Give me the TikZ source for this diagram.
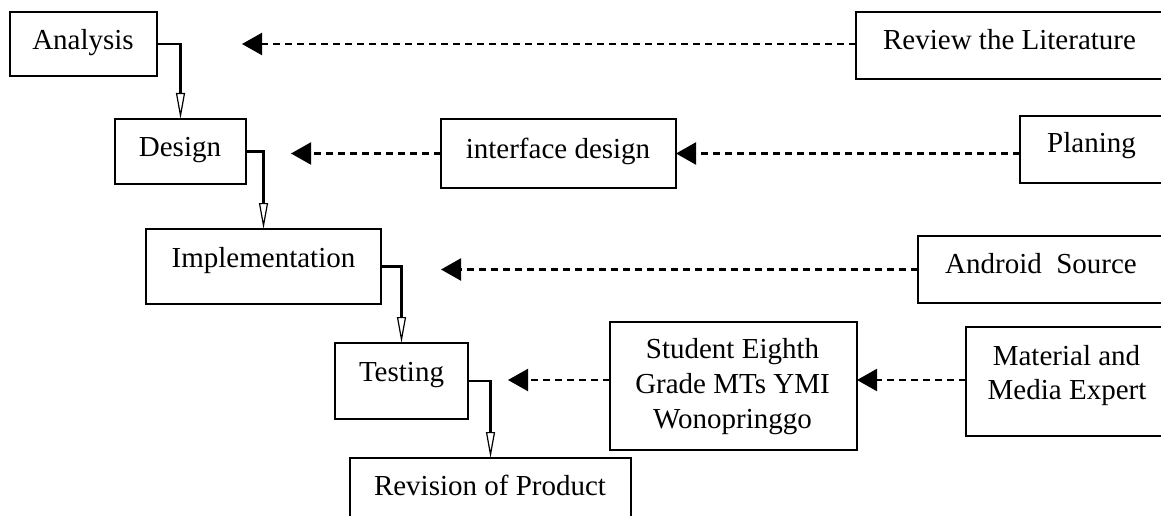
\documentclass[tikz,border=0pt]{standalone}
\usepackage{fontspec}
\setmainfont{Liberation Serif}
\usetikzlibrary{arrows.meta}

\begin{document}
\begin{tikzpicture}[x=1pt, y=-1pt,
  box/.style={draw, line width=1.8pt, inner sep=0pt, outer sep=0pt},
  txt/.style={inner sep=0pt, anchor=base, font=\fontsize{29}{35}\selectfont},
  flow/.style={line width=2.8pt,
    -{Triangle[open, length=26pt, width=9pt, line width=1.2pt]}},
  feed/.style={line width=2.2pt, dash pattern=on 7pt off 5pt,
    -{Triangle[length=20pt, width=22pt]}}]

  \fill[white] (0,0) rectangle (1161,516);
  \clip (0,0) rectangle (1161,516);

  % ---- main development stages (left column, stepping down) ----
  \node[box, minimum width=147pt, minimum height=64pt] (ana) at (83.5,44) {};
  \node[box, minimum width=131pt, minimum height=65pt] (des) at (180.5,151.5) {};
  \node[box, minimum width=235pt, minimum height=75pt] (imp) at (263.5,266.5) {};
  \node[box, minimum width=133pt, minimum height=76pt] (tst) at (401.5,381) {};
  \node[box, minimum width=281pt, minimum height=82pt] (rvp) at (490.5,499) {};

  \node[txt] (anaT) at (83,50)   {Analysis};
  \node[txt] (desT) at (180,157) {Design};
  \node[txt] (impT) at (263.5,267) {Implementation};
  \node[txt] (tstT) at (401.5,381) {Testing};
  \node[txt] (rvpT) at (490,495) {Revision of Product};

  % ---- inputs feeding the stages ----
  \node[box, minimum width=344pt, minimum height=67pt] (rlt) at (1028,45.5) {};
  \node[box, minimum width=180pt, minimum height=67pt] (pla) at (1110,149.5) {};
  \node[box, minimum width=235pt, minimum height=69pt] (ifd) at (558.5,153.5) {};
  \node[box, minimum width=282pt, minimum height=67pt] (and) at (1059,269.5) {};
  \node[box, minimum width=247pt, minimum height=128pt] (stu) at (733.5,386) {};
  \node[box, minimum width=234pt, minimum height=109pt] (mat) at (1083,381.5) {};

  \node[txt] (rltT) at (1009.5,50) {Review the Literature};
  \node[txt] (plaT) at (1091.5,153) {Planing};
  \node[txt] (ifdT) at (558,158) {interface design};
  \node[txt] (andT) at (1041,273) {Android\ \ Source};
  \node[txt] (stuT1) at (732.5,358) {Student Eighth};
  \node[txt] (stuT2) at (732.5,393) {Grade MTs YMI};
  \node[txt] (stuT3) at (732.5,428) {Wonopringgo};
  \node[txt] (matT1) at (1066.5,365) {Material and};
  \node[txt] (matT2) at (1067,399) {Media Expert};

  % ---- stage-to-stage flow ----
  \draw[flow] (ana.east) -| (des.north);
  \draw[flow] (des.east) -| (imp.north);
  \draw[flow] (imp.east) -| (tst.north);
  \draw[flow] (tst.east) -| (rvp.north);

  % ---- free ends of the dashed input arrows ----
  \coordinate (t1) at (242,44);
  \coordinate (t2) at (291,153.5);
  \coordinate (t3) at (441,269.5);
  \coordinate (t4) at (508,380);

  % ---- dashed input arrows ----
  \draw[feed] (rlt.west |- t1) -- (t1);
  \draw[feed] (pla.west |- ifd.east) -- (ifd.east);
  \draw[feed] (ifd.west) -- (t2);
  \draw[feed] (and.west) -- (t3);
  \draw[feed] (mat.west |- t4) -- (stu.east |- t4);
  \draw[feed] (stu.west |- t4) -- (t4);
\end{tikzpicture}
\end{document}
